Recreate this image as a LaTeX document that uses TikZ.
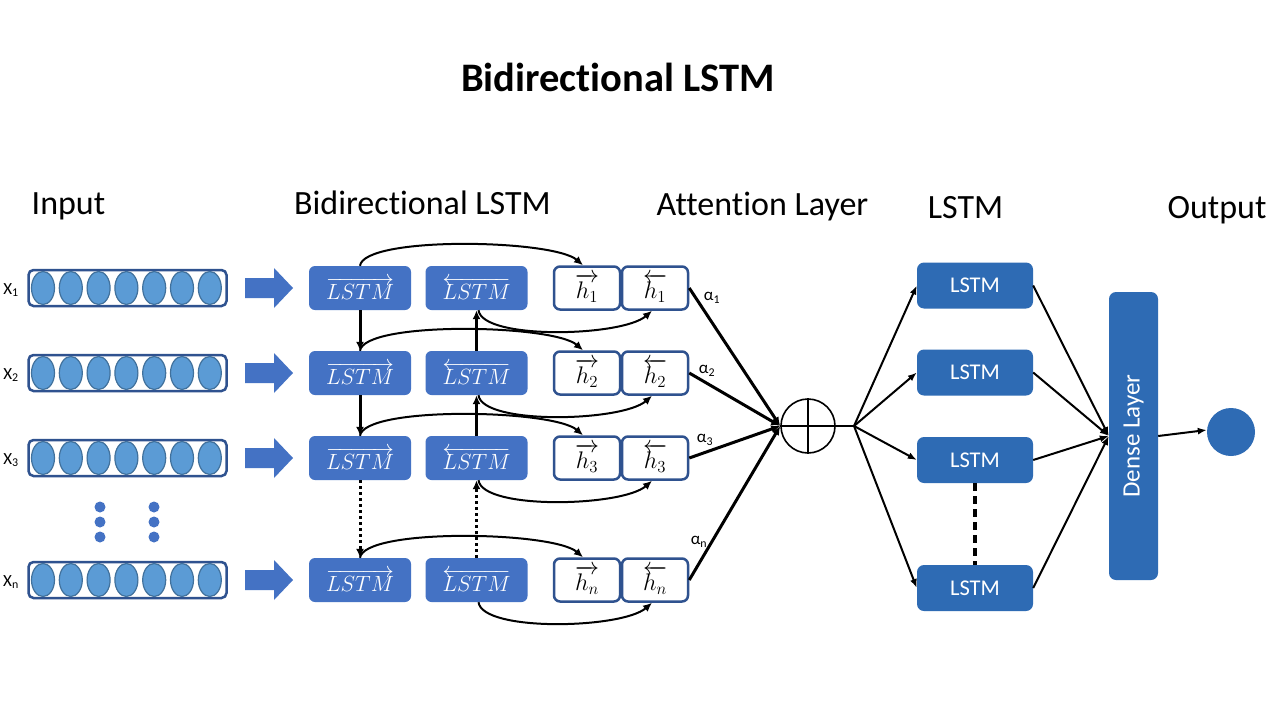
\documentclass[tikz,border=0pt]{standalone}
\usepackage{fix-cm}
\usepackage{fontspec}
\setmainfont{Carlito}[Ligatures=NoCommon]
\usetikzlibrary{arrows.meta}
\definecolor{lblue}{HTML}{4472C4}
\definecolor{dblue}{HTML}{2F528F}
\definecolor{eblue}{HTML}{5B9BD5}
\definecolor{eborder}{HTML}{41719C}
\definecolor{rblue}{HTML}{2E6BB4}
\begin{document}
\begin{tikzpicture}[x=1pt,y=-1pt,
  hdr/.style={anchor=base,font=\fontsize{34}{38}\selectfont,inner sep=0},
  ttl/.style={anchor=base,font=\fontsize{40.5}{44}\selectfont\bfseries,inner sep=0},
  inbox/.style={rectangle,rounded corners=5pt,draw=dblue,line width=2.5pt,fill=white,minimum width=198pt,minimum height=36pt,inner sep=0},
  lstmbox/.style={rectangle,rounded corners=6pt,fill=lblue,minimum width=102pt,minimum height=44pt,text=white,font=\fontsize{22}{24}\selectfont,inner sep=0},
  hbox/.style={rectangle,rounded corners=6pt,draw=dblue,line width=2.5pt,fill=white,minimum width=66pt,minimum height=43pt,font=\fontsize{24}{26}\selectfont,inner sep=0},
  rbox/.style={rectangle,rounded corners=7pt,fill=rblue,minimum width=116pt,minimum height=46pt,text=white,font=\fontsize{22.5}{25}\selectfont,inner sep=0},
  xlab/.style={font=\fontsize{17}{19}\selectfont,inner sep=0},
  alab/.style={font=\fontsize{17}{19}\selectfont,inner sep=0},
  tip/.style={-{Latex[length=9pt,width=8pt]}},
  curvearr/.style={tip,line width=2pt},
  vertarr/.style={tip,line width=3pt},
  attn/.style={-{Latex[length=9pt,width=8pt]},line width=3pt},
  fanarr/.style={-{Latex[length=9pt,width=7pt]},line width=2pt},
  blockarr/.style={fill=lblue}
]
\useasboundingbox (0,0) rectangle (1280,720);
\fill[white] (0,0) rectangle (1280,720);

% title and headers
\node[ttl] (title) at (618,91) {Bidirectional LSTM};
\node[hdr] (hin) at (68.5,214) {Input};
\node[hdr] (hbi) at (422.5,214) {Bidirectional LSTM};
\node[hdr] (hat) at (762.5,215) {Attention Layer};
\node[hdr] (hls) at (965.5,218) {LSTM};
\node[hdr] (hout) at (1217,218) {Output};

% rows
\foreach \i/\y/\s in {1/288/1,2/373/2,3/458/3,4/580/n} {
  \node[inbox] (in\i) at (127.5,\y) {};
  \foreach \k in {0,...,6}
    \draw[fill=eblue,draw=eborder,line width=1.2pt] (43+27.8*\k,\y) ellipse [x radius=11.5pt, y radius=16.5pt];
  \node[xlab] (x\i) at (11,\y+2) {X\textsubscript{\s}};
  \fill[blockarr] (245,\y-10) -- (274,\y-10) -- (274,\y-20) -- (293,\y) -- (274,\y+20) -- (274,\y+10) -- (245,\y+10) -- cycle;
  \node[lstmbox] (f\i) at (360,\y) {$\overrightarrow{LSTM}$};
  \node[lstmbox] (b\i) at (476.5,\y) {$\overleftarrow{LSTM}$};
  \node[hbox] (hf\i) at (587,\y) {$\overrightarrow{h_\s}$};
  \node[hbox] (hb\i) at (655,\y) {$\overleftarrow{h_\s}$};
  \draw[curvearr] (f\i.north) .. controls +(4,-30) and +(-30,-26) .. ([xshift=-4pt]hf\i.north);
  \draw[curvearr] ([xshift=2pt]b\i.south) .. controls +(4,30) and +(-30,26) .. ([xshift=-3pt]hb\i.south);
}

% dots between rows
\foreach \cx in {100,154}
  \foreach \cy in {507,522,537}
    \fill[lblue] (\cx,\cy) circle [radius=5.5pt];

% vertical recurrences
\draw[vertarr] (f1.south) -- (f2.north);
\draw[vertarr] (f2.south) -- (f3.north);
\draw[vertarr,dash pattern=on 3pt off 3pt] (f3.south) -- (f4.north);
\draw[vertarr] (b2.north) -- (b1.south);
\draw[vertarr] (b3.north) -- (b2.south);
\draw[vertarr,dash pattern=on 3pt off 3pt] (b4.north) -- (b3.south);

% attention
\node[circle,draw,line width=1.6pt,minimum size=54pt,inner sep=0] (sum) at (808,426) {};
\draw[line width=1.6pt] (sum.north) -- (sum.south) (sum.west) -- (sum.east);
\foreach \i in {1,...,4}
  \draw[attn] (hb\i.east) -- (sum.west);
\node[alab] (a1) at (712,298) {α\textsubscript{1}};
\node[alab] (a2) at (707,371) {α\textsubscript{2}};
\node[alab] (a3) at (705,440) {α\textsubscript{3}};
\node[alab] (a4) at (699,542) {α\textsubscript{n}};

% second LSTM layer
\node[rbox] (r1) at (975,285.5) {LSTM};
\node[rbox] (r2) at (975,372.5) {LSTM};
\node[rbox] (r3) at (975,460) {LSTM};
\node[rbox] (r4) at (975,588) {LSTM};
\coordinate (fan) at (854,426);
\draw[line width=2pt] (sum.east) -- (fan);
\foreach \i in {1,...,4}
  \draw[fanarr] (fan) -- (r\i.west);
\draw[line width=4pt,dash pattern=on 8pt off 5pt] (r3.south) -- (r4.north);

% dense and output
\node[rectangle,rounded corners=7pt,fill=rblue,minimum width=49pt,minimum height=288pt,inner sep=0] (dense) at (1133.5,436) {};
\node[rotate=90,text=white,font=\fontsize{25}{27}\selectfont,inner sep=0] (dlab) at (dense.center) {Dense Layer};
\foreach \i in {1,...,4}
  \draw[fanarr] (r\i.east) -- (dense.west);
\node[circle,fill=rblue,minimum size=48pt,inner sep=0] (outc) at (1231,432) {};
\draw[fanarr] (dense.east) -- ([yshift=2pt]outc.west);
\end{tikzpicture}
\end{document}
